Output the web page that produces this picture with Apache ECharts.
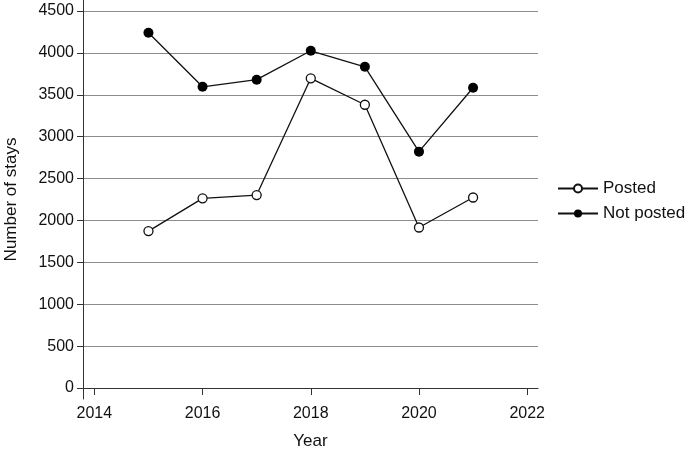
<!DOCTYPE html>
<html><head><meta charset="utf-8">
<script src="https://cdn.jsdelivr.net/npm/echarts@6/dist/echarts.min.js"></script>
<style>html,body{margin:0;padding:0;background:#fff}#c{width:685px;height:449px}</style>
</head><body><div id="c"></div>
<script>
const years = [2015, 2016, 2017, 2018, 2019, 2020, 2021];
const posted = [1873, 2264, 2303, 3696, 3381, 1916, 2274];
const notPosted = [4240, 3595, 3680, 4025, 3834, 2821, 3584];
const xTicks = [2014, 2016, 2018, 2020, 2022];
const yTicks = [0, 500, 1000, 1500, 2000, 2500, 3000, 3500, 4000, 4500];

const font = 'Liberation Sans, Arial, Helvetica, sans-serif';
const chart = echarts.init(document.getElementById('c'));
chart.setOption({
  animation: false,
  backgroundColor: '#fff',
  grid: { left: 83, right: 147, top: 0, bottom: 50, containLabel: false, outerBoundsMode: 'none' },
  xAxis: {
    type: 'value', min: 2013.79, max: 2022.2,
    name: 'Year', nameLocation: 'middle', nameGap: 34,
    nameTextStyle: { fontFamily: font, fontSize: 17, color: '#111' },
    axisLine: { show: true, lineStyle: { color: '#333', width: 1 } },
    axisTick: { show: true, length: 7, customValues: xTicks, lineStyle: { color: '#333' } },
    axisLabel: { customValues: xTicks, formatter: v => String(v), fontFamily: font, fontSize: 16, color: '#111', margin: 7 },
    splitLine: { show: false }
  },
  yAxis: {
    type: 'value', min: -131, max: 4631,
    name: 'Number of stays', nameLocation: 'middle', nameGap: 63, nameRotate: 90,
    nameTextStyle: { fontFamily: font, fontSize: 17, color: '#111' },
    axisLine: { show: true, lineStyle: { color: '#333', width: 1 } },
    axisTick: { show: true, length: 6, customValues: yTicks, lineStyle: { color: '#333' } },
    axisLabel: { customValues: yTicks, formatter: v => String(v), fontFamily: font, fontSize: 16, color: '#111', margin: 9 },
    splitLine: { show: true, lineStyle: { color: '#8c8c8c', width: 1 } }
  },
  legend: {
    orient: 'vertical', left: 552, top: 175, itemGap: 8,
    itemWidth: 40, itemHeight: 10,
    textStyle: { fontFamily: font, fontSize: 17, color: '#111' },
    data: ['Posted', 'Not posted']
  },
  series: [
    {
      name: 'Posted', type: 'line', data: years.map((y, i) => [y, posted[i]]),
      symbol: 'circle', symbolSize: 9,
      lineStyle: { color: '#111', width: 1.3 },
      itemStyle: { color: '#fff', borderColor: '#111', borderWidth: 1.3 }
    },
    {
      name: 'Not posted', type: 'line', data: years.map((y, i) => [y, notPosted[i]]),
      symbol: 'circle', symbolSize: 10,
      lineStyle: { color: '#111', width: 1.3 },
      itemStyle: { color: '#000', borderColor: '#000', borderWidth: 0 }
    }
  ]
});
</script></body></html>
